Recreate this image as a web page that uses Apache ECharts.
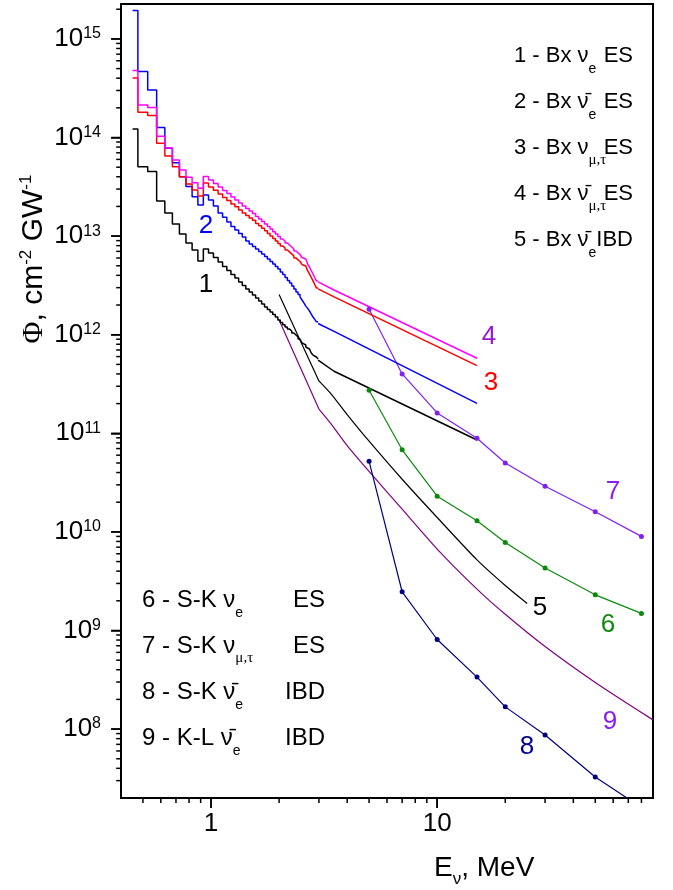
<!DOCTYPE html>
<html>
<head>
<meta charset="utf-8">
<script src="https://cdn.jsdelivr.net/npm/echarts@6/dist/echarts.min.js"></script>
<style>
html, body { margin: 0; padding: 0; background: #fff; }
#chart { width: 673px; height: 890px; }
</style>
</head>
<body>
<div id="chart"></div>
<script>
// Borexino histograms: bin edges, MeV
var binEdges = [0.45, 0.475, 0.525, 0.575, 0.625, 0.675, 0.725, 0.775, 0.825, 0.875, 0.925,
    0.975, 1.025, 1.075, 1.125, 1.175, 1.225, 1.275, 1.325, 1.375, 1.425,
    1.475, 1.525, 1.575, 1.625, 1.675, 1.725, 1.775, 1.825, 1.875, 1.925,
    1.975, 2.025, 2.075, 2.125, 2.175, 2.225, 2.275, 2.325, 2.375, 2.425,
    2.475, 2.525, 2.575, 2.625, 2.675, 2.725, 2.775, 2.825, 2.875, 2.925, 2.975];

// 1 - Bx nu_e ES
var bxNueES = [1.22e14, 5.06e13, 4.51e13, 2.27e13, 1.72e13, 1.33e13, 1.05e13, 8.51e12, 7.23e12, 5.60e12, 7.41e12,
    6.75e12, 6.07e12, 5.47e12, 4.92e12, 4.48e12, 4.08e12, 3.76e12, 3.43e12, 3.16e12, 2.91e12,
    2.71e12, 2.53e12, 2.36e12, 2.20e12, 2.05e12, 1.91e12, 1.80e12, 1.70e12, 1.60e12, 1.51e12,
    1.41e12, 1.33e12, 1.26e12, 1.20e12, 1.14e12, 1.09e12, 1.04e12, 9.93e11, 9.48e11, 9.04e11,
    8.63e11, 8.24e11, 7.87e11, 7.50e11, 7.16e11, 6.84e11, 6.52e11, 6.22e11, 5.94e11, 5.67e11];
// 2 - Bx anti-nu_e ES
var bxAnueES = [1.94e15, 4.66e14, 3.04e14, 1.26e14, 7.78e13, 5.56e13, 4.01e13, 3.18e13, 2.51e13, 2.07e13, 2.61e13,
    2.33e13, 2.02e13, 1.72e13, 1.55e13, 1.39e13, 1.25e13, 1.15e13, 1.06e13, 9.8e12, 8.9e12,
    8.3e12, 7.85e12, 7.4e12, 6.98e12, 6.59e12, 6.21e12, 5.86e12, 5.53e12, 5.21e12, 4.92e12,
    4.64e12, 4.33e12, 4.08e12, 3.80e12, 3.55e12, 3.35e12, 3.12e12, 2.91e12, 2.71e12, 2.56e12,
    2.42e12, 2.25e12, 2.10e12, 1.95e12, 1.85e12, 1.74e12, 1.62e12, 1.51e12, 1.43e12, 1.35e12];
// 3 - Bx nu_mu,tau ES
var bxNumuES = [4.02e14, 1.80e14, 1.67e14, 8.75e13, 6.50e13, 5.06e13, 4.01e13, 3.38e13, 2.94e13, 2.55e13, 3.46e13,
    3.15e13, 2.91e13, 2.68e13, 2.47e13, 2.30e13, 2.12e13, 1.98e13, 1.84e13, 1.72e13, 1.62e13,
    1.53e13, 1.45e13, 1.34e13, 1.27e13, 1.20e13, 1.13e13, 1.06e13, 1.00e13, 9.44e12, 8.93e12,
    8.42e12, 7.95e12, 7.59e12, 7.23e12, 6.91e12, 6.60e12, 6.30e12, 6.01e12, 5.74e12, 5.53e12,
    5.35e12, 5.16e12, 4.98e12, 4.76e12, 4.43e12, 4.13e12, 3.81e12, 3.51e12, 3.23e12, 2.98e12];
// 4 - Bx anti-nu_mu,tau ES
var bxAnumuES = [4.77e14, 2.14e14, 2.01e14, 1.03e14, 7.84e13, 5.92e13, 4.69e13, 3.95e13, 3.48e13, 3.06e13, 4.03e13,
    3.71e13, 3.42e13, 3.15e13, 2.90e13, 2.71e13, 2.49e13, 2.33e13, 2.17e13, 2.02e13, 1.91e13,
    1.80e13, 1.70e13, 1.58e13, 1.49e13, 1.41e13, 1.33e13, 1.25e13, 1.18e13, 1.11e13, 1.05e13,
    9.91e12, 9.35e12, 8.93e12, 8.51e12, 8.13e12, 7.76e12, 7.41e12, 7.07e12, 6.75e12, 6.51e12,
    6.29e12, 6.07e12, 5.86e12, 5.60e12, 5.21e12, 4.86e12, 4.48e12, 4.13e12, 3.80e12, 3.51e12];

// smooth tails above 3 MeV
var tailE = [2.975, 3.5, 15];
var bxNueTail = [5.53e11, 4.26e11, 8.55e10];
var bxAnueTail = [1.30e12, 1.08e12, 2.01e11];
var bxNumuTail = [2.92e12, 2.42e12, 4.85e11];
var bxAnumuTail = [3.43e12, 2.84e12, 5.77e11];

// 5 - Bx anti-nu_e IBD (steep part up to 3 MeV, then the curved part)
var bxIbdE1 = [2.0, 2.5, 3.0];
var bxAnueIBD1 = [2.55e12, 8.4e11, 3.4e11];
var bxIbdE2 = [3.0, 3.4, 4, 5, 7, 10, 15, 20, 25];
var bxAnueIBD2 = [3.4e11, 2.50e11, 1.55e11, 8.32e10, 3.42e10, 1.40e10, 5.20e9, 2.86e9, 1.88e9];

// Super-Kamiokande
var skE = [5, 7, 10, 15, 20, 30, 50, 80];
var skNueES = [2.73e11, 6.8e10, 2.3e10, 1.30e10, 7.8e9, 4.3e9, 2.3e9, 1.49e9];
var skNumuES = [1.81e12, 4.0e11, 1.61e11, 8.9e10, 5.0e10, 2.9e10, 1.6e10, 9.0e9];
var skAnueIBD = [5.2e10, 2.47e9, 8.1e8, 3.37e8, 1.68e8, 8.7e7, 3.26e7, 1.6e7];

// KamLAND
var klE1 = [2, 3];
var klAnueIBD1 = [1.41e12, 1.76e11];
var klE2 = [3, 3.4, 4, 5, 7, 10, 15, 20, 30, 50, 90];
var klAnueIBD2 = [1.76e11, 1.24e11, 7.5e10, 4.1e10, 1.7e10, 6.7e9, 2.63e9, 1.46e9, 6.87e8, 2.97e8, 1.24e8];

var xMajor = [1, 10];
var yMajor = [1e8, 1e9, 1e10, 1e11, 1e12, 1e13, 1e14, 1e15];

var FONT = '"Liberation Sans", Arial, sans-serif';
var SERIF = '"Liberation Serif", "Times New Roman", serif';
var X_MIN = 0.4, X_MAX = 90, Y_MIN = 2e7, Y_MAX = 2.26e15;
var GRID = { left: 121, right: 20, top: 4, bottom: 92 };
var W = 673, H = 890;

// minor tick values 2..9 of every decade
var xMinor = [], yMinor = [];
for (var p = -1; p <= 1; p++) {
    for (var m = 2; m <= 9; m++) {
        var v = +(m * Math.pow(10, p)).toPrecision(6);
        if (v > X_MIN * 1.01 && v < X_MAX * 0.99) xMinor.push(v);
    }
}
for (var q = 7; q <= 15; q++) {
    for (var k = 2; k <= 9; k++) {
        var w = +(k * Math.pow(10, q)).toPrecision(6);
        if (w > Y_MIN * 1.01 && w < Y_MAX * 0.99) yMinor.push(w);
    }
}

function stepData(vals) {
    var d = [];
    for (var i = 0; i < vals.length; i++) d.push([binEdges[i], vals[i]]);
    d.push([binEdges[vals.length], vals[vals.length - 1]]);
    return d;
}
function pairs(xs, ys) {
    return xs.map(function (x, i) { return [x, ys[i]]; });
}
function line(data, color, width, opts) {
    opts = opts || {};
    return {
        type: 'line',
        data: data,
        step: opts.step || false,
        smooth: opts.smooth || false,
        symbol: opts.dots ? 'circle' : 'none',
        symbolSize: 5,
        showSymbol: !!opts.dots,
        lineStyle: { color: color, width: width },
        itemStyle: { color: color },
        silent: true,
        animation: false,
        z: 3
    };
}

// x-axis ticks: short unclipped vertical segments below the axis
var pxPerDecadeY = (H - GRID.top - GRID.bottom) / Math.log10(Y_MAX / Y_MIN);
function xTickSeries(vals, len) {
    var d = [];
    vals.forEach(function (val) {
        d.push([val, Y_MIN], [val, Y_MIN * Math.pow(10, -len / pxPerDecadeY)], [val, '-']);
    });
    return {
        type: 'line', data: d, clip: false, connectNulls: false,
        symbol: 'none', showSymbol: false, silent: true, animation: false, z: 6,
        lineStyle: { color: '#000', width: 1.5, cap: 'butt' }
    };
}
// y-axis ticks: thin rectangles anchored just inside the left edge, shifted outwards
function yTickSeries(vals, len) {
    return {
        type: 'scatter', clip: false, silent: true, animation: false, z: 6,
        data: vals.map(function (val) { return [X_MIN * 1.002, val]; }),
        symbol: 'rect', symbolSize: [len, 1.5], symbolOffset: [-len / 2, 0],
        itemStyle: { color: '#000', opacity: 1 }
    };
}

function txt(x, y, text, color, size, align) {
    return {
        type: 'text', x: x, y: y, silent: true,
        style: {
            text: text, fill: color, font: size + 'px ' + FONT,
            align: align || 'center', verticalAlign: 'middle',
            textAlign: align || 'center', textVerticalAlign: 'middle'
        }
    };
}
function legendRich(size) {
    return {
        m: { fontSize: size, fontFamily: FONT, fill: '#000', lineHeight: 40 },
        s: { fontSize: 14, fontFamily: FONT, fill: '#000', lineHeight: 14, verticalAlign: 'bottom' },
        g: { fontSize: 15, fontFamily: SERIF, fill: '#000', lineHeight: 16, verticalAlign: 'bottom' }
    };
}
function legendLine(x, xr, y, size, rich, tail) {
    return [{
        type: 'text', x: x, y: y, silent: true,
        style: {
            text: rich, rich: legendRich(size), fill: '#000', font: size + 'px ' + FONT,
            align: 'left', verticalAlign: 'middle', textAlign: 'left', textVerticalAlign: 'middle'
        }
    }, txt(xr, y, tail, '#000', size, 'right')];
}

var graphics = [
    txt(206, 285, '1', '#000', 26),
    txt(206, 226, '2', '#0000ff', 26),
    txt(491, 383, '3', '#ff0000', 26),
    txt(489, 337, '4', '#9a16d4', 26),
    txt(540, 608, '5', '#000', 26),
    txt(608, 625, '6', '#0d8a0d', 26),
    txt(613, 492, '7', '#8a1cf0', 26),
    txt(527, 747, '8', '#000090', 26),
    txt(610, 722, '9', '#8a1cf0', 26),
    {
        type: 'text', x: 434, y: 868, silent: true,
        style: {
            text: '{m|E}{s|ν}{m|, MeV}', fill: '#000', font: '28px ' + FONT,
            align: 'left', verticalAlign: 'middle', textAlign: 'left', textVerticalAlign: 'middle',
            rich: {
                m: { fontSize: 28, fontFamily: FONT, fill: '#000', lineHeight: 40 },
                s: { fontSize: 17, fontFamily: FONT, fill: '#000', lineHeight: 14, verticalAlign: 'bottom' }
            }
        }
    },
    {
        type: 'text', x: 34, y: 259, rotation: Math.PI / 2, silent: true,
        style: {
            text: '{p|Φ}{m|, cm}{u|-2}{m| GW}{u|-1}', fill: '#000', font: '30px ' + FONT,
            align: 'center', verticalAlign: 'middle', textAlign: 'center', textVerticalAlign: 'middle',
            rich: {
                p: { fontSize: 30, fontFamily: SERIF, fill: '#000', lineHeight: 32 },
                m: { fontSize: 30, fontFamily: FONT, fill: '#000', lineHeight: 32 },
                u: { fontSize: 17, fontFamily: FONT, fill: '#000', lineHeight: 17, verticalAlign: 'top' }
            }
        }
    }
];
graphics = graphics
    .concat(legendLine(514, 633, 56, 22, '{m|1 - Bx ν}{s|e}', 'ES'))
    .concat(legendLine(514, 633, 102, 22, '{m|2 - Bx ν\u0304}{s|e}', 'ES'))
    .concat(legendLine(514, 633, 148, 22, '{m|3 - Bx ν}{g|μ,τ}', 'ES'))
    .concat(legendLine(514, 633, 194, 22, '{m|4 - Bx ν\u0304}{g|μ,τ}', 'ES'))
    .concat(legendLine(514, 633, 240, 22, '{m|5 - Bx ν\u0304}{s|e}', 'IBD'))
    .concat(legendLine(142, 325, 600, 24, '{m|6 - S-K ν}{s|e}', 'ES'))
    .concat(legendLine(142, 325, 646, 24, '{m|7 - S-K ν}{g|μ,τ}', 'ES'))
    .concat(legendLine(142, 325, 692, 24, '{m|8 - S-K ν\u0304}{s|e}', 'IBD'))
    .concat(legendLine(142, 325, 738, 24, '{m|9 - K-L ν\u0304}{s|e}', 'IBD'));

function logAxis(min, max, pos, major, isX) {
    return {
        type: 'log', logBase: 10, min: min, max: max, position: pos,
        splitLine: { show: false }, minorTick: { show: false }, minorSplitLine: { show: false },
        axisPointer: { show: false },
        axisLine: { show: true, lineStyle: { color: '#000', width: 2 } },
        axisTick: { show: true, customValues: major, length: 10, lineStyle: { color: '#000', width: 1.5 } },
        axisLabel: isX ? {
            customValues: major, margin: 13, color: '#000', fontSize: 26, fontFamily: FONT
        } : {
            customValues: major, margin: 20, color: '#000',
            formatter: function (val) { return '{b|10}{s|' + Math.round(Math.log10(val)) + '}'; },
            rich: {
                b: { fontSize: 26, fontFamily: FONT, color: '#000', lineHeight: 26 },
                s: { fontSize: 16, fontFamily: FONT, color: '#000', lineHeight: 16, verticalAlign: 'top' }
            }
        }
    };
}

var chart = echarts.init(document.getElementById('chart'));

var option = {
    animation: false,
    backgroundColor: '#fff',
    textStyle: { fontFamily: FONT },
    grid: {
        left: GRID.left, right: GRID.right, top: GRID.top, bottom: GRID.bottom,
        containLabel: false, outerBoundsMode: 'none',
        show: true, borderColor: '#000', borderWidth: 2, backgroundColor: 'transparent'
    },
    xAxis: logAxis(X_MIN, X_MAX, 'bottom', xMajor, true),
    yAxis: logAxis(Y_MIN, Y_MAX, 'left', yMajor, false),
    series: [
        xTickSeries(xMinor, 5),
        xTickSeries(xMajor, 10),
        yTickSeries(yMinor, 5),
        yTickSeries(yMajor, 10),
        line(pairs(klE1, klAnueIBD1), '#800080', 1.2),
        line(pairs(klE2, klAnueIBD2), '#800080', 1.2, { smooth: 0.25 }),
        line(pairs(bxIbdE1, bxAnueIBD1), '#000', 1.2),
        line(pairs(bxIbdE2, bxAnueIBD2), '#000', 1.2, { smooth: 0.25 }),
        line(pairs(skE, skAnueIBD), '#000080', 1.2, { dots: true }),
        line(pairs(skE, skNueES), '#0a8a0a', 1.2, { dots: true }),
        line(pairs(skE, skNumuES), '#8020f0', 1.2, { dots: true }),
        line(stepData(bxNueES), '#000', 1.5, { step: 'end' }),
        line(pairs(tailE, bxNueTail), '#000', 1.5),
        line(stepData(bxAnueES), '#0000ff', 1.5, { step: 'end' }),
        line(pairs(tailE, bxAnueTail), '#0000ff', 1.5),
        line(stepData(bxNumuES), '#ff0000', 1.5, { step: 'end' }),
        line(pairs(tailE, bxNumuTail), '#ff0000', 1.5),
        line(stepData(bxAnumuES), '#ff00ff', 1.5, { step: 'end' }),
        line(pairs(tailE, bxAnumuTail), '#ff00ff', 1.5)
    ],
    graphic: { elements: graphics }
};
chart.setOption(option);
</script>
</body>
</html>
